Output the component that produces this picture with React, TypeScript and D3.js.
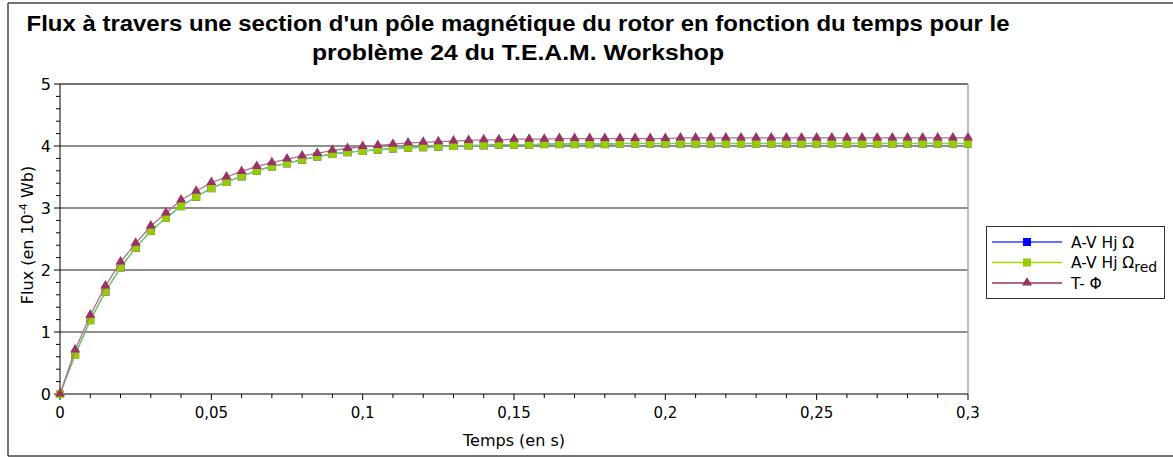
import React from "react";
import * as d3 from "d3";

const times: number[] = [
  0, 0.005, 0.01, 0.015, 0.02, 0.025, 0.03, 0.035, 0.04, 0.045, 0.05,
  0.055, 0.06, 0.065, 0.07, 0.075, 0.08, 0.085, 0.09, 0.095, 0.1,
  0.105, 0.11, 0.115, 0.12, 0.125, 0.13, 0.135, 0.14, 0.145, 0.15,
  0.155, 0.16, 0.165, 0.17, 0.175, 0.18, 0.185, 0.19, 0.195, 0.2,
  0.205, 0.21, 0.215, 0.22, 0.225, 0.23, 0.235, 0.24, 0.245, 0.25,
  0.255, 0.26, 0.265, 0.27, 0.275, 0.28, 0.285, 0.29, 0.295, 0.3,
];

const avOmega: number[] = [
  0, 0.63, 1.19, 1.65, 2.04, 2.36, 2.63, 2.84, 3.03, 3.18, 3.32,
  3.42, 3.51, 3.6, 3.67, 3.72, 3.78, 3.83, 3.87, 3.9, 3.92,
  3.94, 3.96, 3.97, 3.98, 3.99, 4.0, 4.01, 4.01, 4.02, 4.02,
  4.02, 4.03, 4.03, 4.03, 4.03, 4.03, 4.04, 4.04, 4.04, 4.04,
  4.04, 4.04, 4.04, 4.04, 4.04, 4.04, 4.04, 4.04, 4.04, 4.04,
  4.04, 4.04, 4.04, 4.04, 4.04, 4.04, 4.04, 4.04, 4.04, 4.04,
];

const avOmegaRed: number[] = [
  0, 0.63, 1.19, 1.65, 2.04, 2.36, 2.63, 2.84, 3.03, 3.18, 3.32,
  3.42, 3.51, 3.6, 3.67, 3.72, 3.78, 3.83, 3.87, 3.9, 3.92,
  3.94, 3.96, 3.97, 3.98, 3.99, 4.0, 4.01, 4.01, 4.02, 4.02,
  4.02, 4.03, 4.03, 4.03, 4.03, 4.03, 4.04, 4.04, 4.04, 4.04,
  4.04, 4.04, 4.04, 4.04, 4.04, 4.04, 4.04, 4.04, 4.04, 4.04,
  4.04, 4.04, 4.04, 4.04, 4.04, 4.04, 4.04, 4.04, 4.04, 4.04,
];

const tPhi: number[] = [
  0, 0.71, 1.27, 1.74, 2.13, 2.43, 2.71, 2.92, 3.13, 3.27, 3.41,
  3.5, 3.59, 3.67, 3.73, 3.79, 3.84, 3.88, 3.93, 3.96, 3.99,
  4.01, 4.03, 4.05, 4.06, 4.07, 4.08, 4.09, 4.1, 4.1, 4.11,
  4.11, 4.11, 4.12, 4.12, 4.12, 4.12, 4.12, 4.12, 4.12, 4.12,
  4.13, 4.13, 4.13, 4.13, 4.13, 4.13, 4.13, 4.13, 4.13, 4.13,
  4.13, 4.13, 4.13, 4.13, 4.13, 4.13, 4.13, 4.13, 4.13, 4.13,
];

const xTickLabels: string[] = ["0", "0,05", "0,1", "0,15", "0,2", "0,25", "0,3"];
const xTickValues: number[] = [0, 0.05, 0.1, 0.15, 0.2, 0.25, 0.3];
const yTickValues: number[] = [0, 1, 2, 3, 4, 5];

const titleLines: string[] = [
  "Flux à travers une section d'un pôle magnétique du rotor en fonction du temps pour le",
  "problème 24 du T.E.A.M. Workshop",
];

export default function App() {
  const W = 1173;
  const H = 457;
  const left = 60, right = 968, top = 84, bottom = 394;
  const x = d3.scaleLinear().domain([0, 0.3]).range([left, right]);
  const y = d3.scaleLinear().domain([0, 5]).range([bottom, top]);

  const line = d3
    .line<number>()
    .x((_, i) => x(times[i]))
    .y((d) => y(d));

  const minorX = d3.range(0, 31).map((i) => i * 0.01);
  const minorY = d3.range(0, 26).map((i) => i * 0.2);

  const tri = (cx: number, cy: number, s = 5) =>
    `M${cx},${cy - s} L${cx + s},${cy + s * 0.7} L${cx - s},${cy + s * 0.7} Z`;

  const font = "DejaVu Sans, Verdana, sans-serif";

  const legendItems = [
    { label: "A-V Hj Ω", sub: "", color: "#0000ff", lineColor: "#3344ff", marker: "sq" },
    { label: "A-V Hj Ω", sub: "red", color: "#99cc00", lineColor: "#99dd00", marker: "sq" },
    { label: "T- Φ", sub: "", color: "#993366", lineColor: "#993366", marker: "tri" },
  ];

  const titleLens = [983, 412];

  return (
    <svg
      width={W}
      height={H}
      style={{ position: "absolute", left: 0, top: 0, background: "#fff" }}
    >
      {/* outer frame */}
      <line x1={8} x2={W} y1={3} y2={3} stroke="#444" strokeWidth={1.5} />
      <line x1={8} x2={8} y1={3} y2={456} stroke="#444" strokeWidth={1.5} />
      <line x1={8} x2={W} y1={456} y2={456} stroke="#444" strokeWidth={1.5} />

      {/* title */}
      {titleLines.map((t, i) => (
        <text
          key={i}
          x={518}
          y={31 + i * 29}
          textAnchor="middle"
          fontFamily="Liberation Sans, Arial, sans-serif"
          fontWeight="bold"
          fontSize={22}
          textLength={titleLens[i]}
          lengthAdjust="spacingAndGlyphs"
          fill="#000"
        >
          {t}
        </text>
      ))}

      {/* grid lines */}
      {yTickValues.slice(1).map((v) => (
        <line
          key={v}
          x1={left}
          x2={right}
          y1={y(v)}
          y2={y(v)}
          stroke={v === 5 ? "#444" : "#6a6a6a"}
          strokeWidth={1.6}
        />
      ))}
      {/* right border */}
      <line x1={right} x2={right} y1={top} y2={bottom} stroke="#aaa" strokeWidth={1.5} />

      {/* axes */}
      <line x1={left} x2={left} y1={top} y2={bottom} stroke="#000" strokeWidth={1} />
      <line x1={left} x2={right} y1={bottom} y2={bottom} stroke="#000" strokeWidth={1} />
      {minorY.map((v, i) => (
        <line
          key={"my" + i}
          x1={i % 5 === 0 ? left - 6 : left - 4}
          x2={left}
          y1={y(v)}
          y2={y(v)}
          stroke="#000"
          strokeWidth={1}
        />
      ))}
      {minorX.map((v, i) => (
        <line
          key={"mx" + i}
          x1={x(v)}
          x2={x(v)}
          y1={bottom}
          y2={i % 5 === 0 ? bottom + 6 : bottom + 4}
          stroke="#000"
          strokeWidth={1}
        />
      ))}
      {yTickValues.map((v) => (
        <text
          key={"yl" + v}
          x={51}
          y={y(v) + 6}
          textAnchor="end"
          fontFamily={font}
          fontSize={16}
          fill="#000"
        >
          {v}
        </text>
      ))}
      {xTickValues.map((v, i) => (
        <text
          key={"xl" + v}
          x={x(v)}
          y={418}
          textAnchor="middle"
          fontFamily={font}
          fontSize={15}
          fill="#000"
        >
          {xTickLabels[i]}
        </text>
      ))}

      {/* axis titles */}
      <text
        x={514}
        y={446}
        textAnchor="middle"
        fontFamily={font}
        fontSize={16}
        fill="#000"
      >
        Temps (en s)
      </text>
      <text
        transform={`translate(33,${235}) rotate(-90)`}
        textAnchor="middle"
        fontFamily={font}
        fontSize={16}
        fill="#000"
      >
        Flux (en 10
        <tspan fontSize={11} dy={-6}>-4</tspan>
        <tspan dy={6}> Wb)</tspan>
      </text>

      {/* series */}
      <path d={line(avOmega) || ""} fill="none" stroke="#0000ff" strokeWidth={1} />
      {avOmega.map((v, i) => (
        <rect key={"b" + i} x={x(times[i]) - 4} y={y(v) - 4} width={8} height={8} fill="#0000ff" />
      ))}
      <path d={line(avOmegaRed) || ""} fill="none" stroke="#77d060" strokeWidth={1.5} />
      {avOmegaRed.map((v, i) => (
        <rect key={"g" + i} x={x(times[i]) - 4} y={y(v) - 4} width={8} height={8} fill="#99cc00" />
      ))}
      <path d={line(tPhi) || ""} fill="none" stroke="#b0708f" strokeWidth={1.3} />
      {tPhi.map((v, i) => (
        <path key={"t" + i} d={tri(x(times[i]), y(v) - 1)} fill="#993366" />
      ))}

      {/* legend */}
      <rect x={986.5} y={226.5} width={178} height={72} fill="#fff" stroke="#333" strokeWidth={1} />
      {legendItems.map((it, i) => {
        const ly = 242 + i * 20.5;
        return (
          <g key={"lg" + i}>
            <line x1={992} x2={1062} y1={ly} y2={ly} stroke={it.lineColor} strokeWidth={1.3} />
            {it.marker === "sq" ? (
              <rect x={1023} y={ly - 4} width={8} height={8} fill={it.color} />
            ) : (
              <path d={tri(1027, ly - 1)} fill={it.color} />
            )}
            <text x={1071} y={ly + 5.5} fontFamily={font} fontSize={15.5} fill="#000">
              {it.label}
              {it.sub ? (
                <tspan fontSize={14} dy={4}>
                  {it.sub}
                </tspan>
              ) : null}
            </text>
          </g>
        );
      })}
    </svg>
  );
}
